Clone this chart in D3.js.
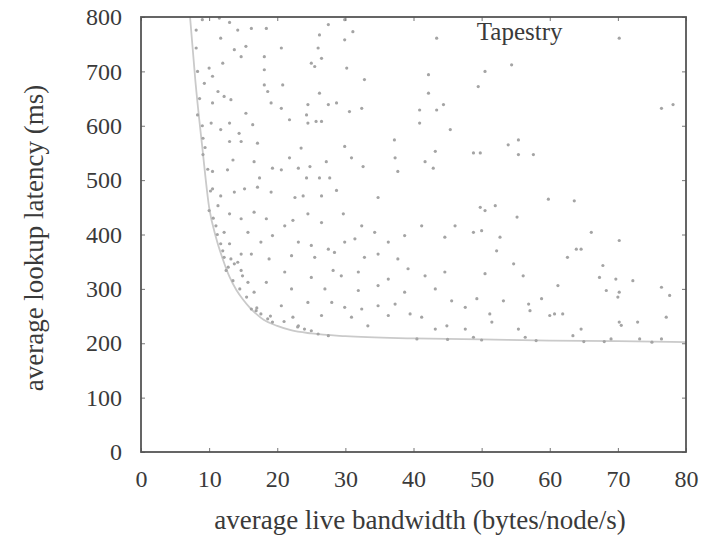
<!DOCTYPE html>
<html>
<head>
<meta charset="utf-8">
<script src="https://cdn.jsdelivr.net/npm/d3@7"></script>
<style>
  body { margin: 0; background: #fff; }
  svg text { font-family: "Liberation Serif", "DejaVu Serif", serif; fill: #3a3a3a; }
</style>
</head>
<body>
<svg id="chart" width="706" height="537"></svg>
<script>
// ticks
const xTicks = [0, 10, 20, 30, 40, 50, 60, 70, 80];
const yTicks = [0, 100, 200, 300, 400, 500, 600, 700, 800];

// frontier (lower envelope) [bandwidth, latency]
const frontier = [
  [7.2, 800], [8, 680], [9, 560], [10, 450], [11, 395], [12, 355], [13, 322],
  [14, 298], [15, 280], [16, 265], [17, 253], [18, 243], [20, 232], [22, 224],
  [25, 218], [30, 213], [40, 209], [50, 207], [60, 205], [70, 204], [80, 202]
];

// scatter points [bandwidth, latency]
const upperLeft = [
  [8.1,776],[11.7,761],[14.2,776],[16.2,779],[18.4,779],[15.4,746],[13.7,740],[12.0,715],
  [10.0,706],[8.1,743],[9.3,678],[10.5,691],[18.1,727],[18.1,703],[18.1,675],[18.6,663],
  [10.5,642],[13.2,648],[12.2,654],[15.4,623],[19.1,642],[8.3,620],[10.3,605],[13.0,605],
  [14.4,586],[9.1,577],[11.7,593],[13.0,571],[14.7,571],[16.4,602],[17.1,568],[9.1,547],
  [13.5,537],[12.7,519],[10.5,516],[16.6,534],[17.4,504],[19.3,522],[11.3,663],[14.7,727],
  [9,795],[11.5,798],[13,790],[8.3,700],[8.6,650],[9.0,600],[9.4,560],[9.8,520]
];
const upperMid = [
  [27.5,786],[29.9,795],[31.1,773],[26.2,767],[26.0,743],[29.9,758],[26.5,724],[25.0,715],
  [25.5,709],[30.2,706],[20.6,743],[32.8,685],[20.8,675],[26.2,660],[24.5,639],[27.5,639],
  [28.7,642],[30.6,626],[32.4,632],[20.6,632],[24.3,620],[21.8,611],[25.7,608],[26.5,608],
  [24.5,605],[37.2,574],[23.5,559],[29.9,562],[21.8,541],[30.9,541],[27.2,534],[37.3,541],
  [23.1,522],[24.8,525],[32.6,525],[20.6,519],[24.3,504],[27.7,504],[37.7,516],[26.2,504]
];
const upperRight = [
  [43.4,761],[50.5,700],[42.2,694],[49.5,672],[42.2,660],[40.9,629],[43.4,629],[44.4,639],
  [40.9,605],[45.4,593],[53.9,565],[55.4,574],[43.2,553],[48.8,550],[49.8,550],[55.4,547],
  [57.6,547],[41.7,534],[42.9,522],[54.4,712],[70.2,761],[78.1,639],[76.4,632]
];
const lowerLeft = [
  [10.5,484],[11.7,471],[13.7,478],[15.2,484],[17.1,487],[19.1,478],[10.0,444],[11.3,453],
  [13.0,438],[14.7,429],[16.6,441],[18.4,429],[11.0,416],[12.2,404],[15.7,404],[17.6,386],
  [19.3,398],[11.7,383],[13.0,383],[14.7,364],[16.2,364],[12.2,358],[13.7,346],[12.5,334],
  [14.7,334],[14.2,349],[18.8,355],[16.2,263],[16.9,260],[17.6,254],[18.6,245],[19.3,239],
  [15.7,312],[16.6,294],[18.4,312],[14.9,324],[13.2,355],
  [10.2,480],[10.6,430],[11.2,400],[12,370],[12.8,340],[13.5,315],[14.5,300],[15.5,285],
  [17,265],[19,250]
];
const lowerMid = [
  [22.6,468],[23.8,471],[26.5,471],[28.7,481],[34.8,468],[21.1,416],[22.3,426],[24.5,438],
  [26.5,422],[29.7,438],[32.4,416],[34.3,404],[36.3,386],[38.7,398],[23.1,386],[25.0,380],
  [27.5,373],[29.9,386],[31.4,392],[22.1,361],[25.5,358],[28.4,367],[32.8,358],[34.8,364],
  [37.7,355],[21.1,331],[25.0,321],[28.2,334],[29.4,324],[31.9,331],[36.3,318],[39.2,337],
  [22.1,300],[27.0,300],[31.9,297],[34.8,306],[38.7,294],[20.6,269],[24.5,275],[28.0,275],
  [29.9,266],[32.4,263],[34.8,269],[37.3,272],[22.3,248],[26.5,251],[30.9,248],[36.3,251],
  [39.5,254],[24.0,226],[25.0,223],[26.0,217],[27.5,214],[23.1,232],[33.3,232],
  [21,240],[23,230]
];
const lowerRight = [
  [49.8,450],[50.5,444],[52.0,453],[55.2,432],[59.8,465],[41.2,416],[46.1,416],[48.8,404],
  [50.0,407],[44.6,395],[52.7,395],[52.2,370],[54.7,346],[44.6,331],[41.7,324],[50.5,328],
  [56.1,324],[43.2,300],[45.6,278],[49.3,282],[53.2,278],[56.9,272],[58.8,282],[47.6,266],
  [41.2,248],[51.2,254],[57.1,260],[44.9,232],[47.6,226],[51.5,239],[55.4,226],[60.0,251],
  [43.2,226],[56.4,211],[48.8,211],
  [63.6,462],[66.1,404],[70.2,389],[63.9,373],[64.6,373],[62.6,358],[67.8,343],[67.3,321],
  [69.7,318],[72.2,315],[68.3,297],[70.2,294],[70.0,285],[61.2,306],[76.4,303],[77.6,288],
  [60.7,254],[61.9,254],[77.1,248],[70.2,239],[72.9,239],[64.6,226],[63.4,214],[69.0,208],
  [73.2,208],[76.4,208],[70.5,233],
  [40.5,208],[45,207],[50,206],[58,205],[65,203],[68,203],[75,202]
];

const points = [].concat(upperLeft, upperMid, upperRight, lowerLeft, lowerMid, lowerRight);

const svg = d3.select("#chart");
const margin = { left: 141, top: 17, right: 20, bottom: 85 };
const width = 706 - margin.left - margin.right;
const height = 537 - margin.top - margin.bottom;

const x = d3.scaleLinear().domain([0, 80]).range([0, width]);
const y = d3.scaleLinear().domain([0, 800]).range([height, 0]);

const g = svg.append("g").attr("transform", `translate(${margin.left},${margin.top})`);

// frontier line
const line = d3.line().x(d => x(d[0])).y(d => y(d[1])).curve(d3.curveMonotoneX);
g.append("path")
  .datum(frontier)
  .attr("d", line)
  .attr("fill", "none")
  .attr("stroke", "#cacaca")
  .attr("stroke-width", 1.8);

// points
g.selectAll("circle.pt")
  .data(points)
  .enter()
  .append("circle")
  .attr("class", "pt")
  .attr("cx", d => x(d[0]))
  .attr("cy", d => y(d[1]))
  .attr("r", 1.6)
  .attr("fill", "#a4a4a4");

// axes with inward ticks, mirrored on top/right
const axisStyle = sel => {
  sel.select(".domain").remove();
  sel.selectAll(".tick line").attr("stroke", "#777").attr("stroke-width", 1);
};
g.append("g").attr("transform", `translate(0,${height})`)
  .call(d3.axisBottom(x).tickValues(xTicks).tickSize(-4).tickPadding(18))
  .call(axisStyle)
  .selectAll("text").attr("font-size", 24).attr("font-family", "Liberation Serif, serif").attr("fill", "#3a3a3a");
g.append("g")
  .call(d3.axisLeft(y).tickValues(yTicks).tickSize(-4).tickPadding(19))
  .call(axisStyle)
  .selectAll("text").attr("font-size", 24).attr("font-family", "Liberation Serif, serif").attr("fill", "#3a3a3a");
g.append("g")
  .call(d3.axisTop(x).tickValues(xTicks).tickSize(-4).tickFormat(""))
  .call(axisStyle);
g.append("g").attr("transform", `translate(${width},0)`)
  .call(d3.axisRight(y).tickValues(yTicks).tickSize(-4).tickFormat(""))
  .call(axisStyle);

// frame
g.append("rect")
  .attr("width", width).attr("height", height)
  .attr("fill", "none").attr("stroke", "#555").attr("stroke-width", 1.8);

// labels
g.append("text")
  .attr("x", x(49.3)).attr("y", y(757))
  .attr("font-size", 25)
  .text("Tapestry");

svg.append("text")
  .attr("x", 420).attr("y", 529)
  .attr("text-anchor", "middle").attr("font-size", 27)
  .text("average live bandwidth (bytes/node/s)");

svg.append("text")
  .attr("transform", `translate(43,238) rotate(-90)`)
  .attr("text-anchor", "middle").attr("font-size", 27)
  .text("average lookup latency (ms)");
</script>
</body>
</html>
